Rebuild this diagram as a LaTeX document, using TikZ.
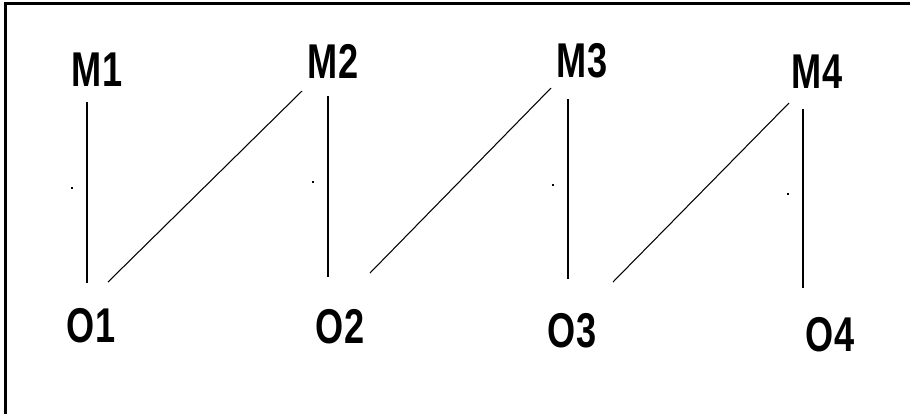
\documentclass[tikz,border=0pt]{standalone}
\usepackage{fontspec}
\newfontfamily\lblfont[FakeStretch=0.74]{Liberation Sans}
\usetikzlibrary{positioning}
\tikzset{
  lbl/.style={font=\lblfont\bfseries\fontsize{27.8}{30}\selectfont, inner sep=0pt},
  vline/.style={draw=black, line width=1.15pt},
  dline/.style={draw=black, line width=0.6pt},
  frame/.style={draw=black, line width=1.15pt},
  speck/.style={fill=black},
}
\begin{document}
\begin{tikzpicture}[x=0.02cm, y=-0.02cm]
\useasboundingbox (0,0) rectangle (910,414);
\draw[frame] (910,3.5) -- (5.5,3.5) -- (5.5,414);
% labels
\node[lbl] (M1) at (97,70) {M1};
\node[lbl] (M2) at (333,61) {M2};
\node[lbl] (M3) at (582,61) {M3};
\node[lbl] (M4) at (817,72) {M4};
\node[lbl] (O1) at (91,326) {O1};
\node[lbl] (O2) at (340,327) {O2};
\node[lbl] (O3) at (572,331) {O3};
\node[lbl] (O4) at (830,335) {O4};
% line ends
\coordinate (m1a) at (87,102);  \coordinate (o1a) at (87,283);
\coordinate (m2a) at (328,96);  \coordinate (o2a) at (328,277);
\coordinate (m3a) at (568,99);  \coordinate (o3a) at (568,279);
\coordinate (m4a) at (803,109); \coordinate (o4a) at (803,288);
\coordinate (o1b) at (108,282); \coordinate (m2b) at (302,91);
\coordinate (o2b) at (370,273); \coordinate (m3b) at (551,88);
\coordinate (o3b) at (613,282); \coordinate (m4b) at (789,103);
\draw[vline] (m1a) -- (o1a);
\draw[vline] (m2a) -- (o2a);
\draw[vline] (m3a) -- (o3a);
\draw[vline] (m4a) -- (o4a);
\draw[dline] (o1b) -- (m2b);
\draw[dline] (o2b) -- (m3b);
\draw[dline] (o3b) -- (m4b);
% specks
\foreach \x/\y in {72/188, 313/182, 553/185, 788/194}
  \fill[speck] (\x-1,\y-1) rectangle (\x+1,\y+1);
\end{tikzpicture}
\end{document}
